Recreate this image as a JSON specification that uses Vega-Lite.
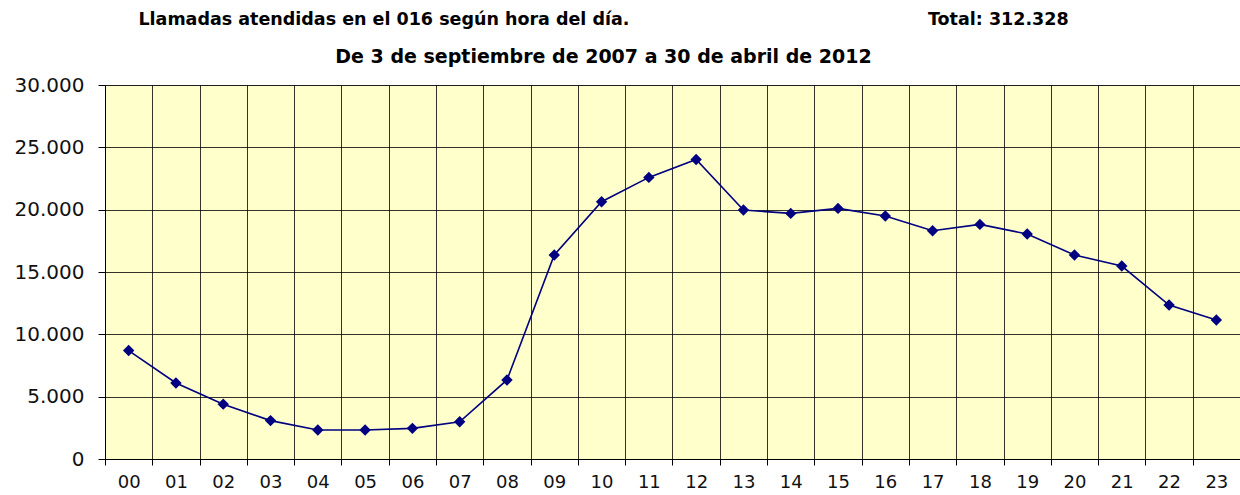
{
  "$schema": "https://vega.github.io/schema/vega-lite/v6.json",
  "width": 1135,
  "height": 374,
  "autosize": {"type": "none"},
  "padding": {"left": 105, "top": 85, "right": 0, "bottom": 36},
  "background": "#ffffff",
  "title": {
    "text": "Llamadas atendidas en el 016 según hora del día.\u00a0\u00a0\u00a0\u00a0\u00a0\u00a0\u00a0\u00a0\u00a0\u00a0\u00a0\u00a0\u00a0\u00a0\u00a0\u00a0\u00a0\u00a0\u00a0\u00a0\u00a0\u00a0\u00a0\u00a0\u00a0\u00a0\u00a0\u00a0\u00a0\u00a0\u00a0\u00a0\u00a0\u00a0\u00a0\u00a0\u00a0\u00a0\u00a0\u00a0\u00a0\u00a0\u00a0\u00a0\u00a0\u00a0\u00a0\u00a0\u00a0Total: 312.328",
    "subtitle": "De 3 de septiembre de 2007 a 30 de abril de 2012",
    "anchor": "middle",
    "frame": "group",
    "dx": -69,
    "offset": 8,
    "subtitlePadding": 20,
    "font": "DejaVu Sans",
    "fontSize": 17.5,
    "fontWeight": "bold",
    "color": "#000000",
    "subtitleFont": "DejaVu Sans",
    "subtitleFontSize": 19,
    "subtitleFontWeight": "bold",
    "subtitleColor": "#000000"
  },
  "data": {
    "values": [
      {"hora": "00", "llamadas": 8700},
      {"hora": "01", "llamadas": 6100},
      {"hora": "02", "llamadas": 4400},
      {"hora": "03", "llamadas": 3080},
      {"hora": "04", "llamadas": 2330},
      {"hora": "05", "llamadas": 2330},
      {"hora": "06", "llamadas": 2460},
      {"hora": "07", "llamadas": 2990},
      {"hora": "08", "llamadas": 6340},
      {"hora": "09", "llamadas": 16360},
      {"hora": "10", "llamadas": 20640},
      {"hora": "11", "llamadas": 22590},
      {"hora": "12", "llamadas": 24030},
      {"hora": "13", "llamadas": 19970},
      {"hora": "14", "llamadas": 19700},
      {"hora": "15", "llamadas": 20100},
      {"hora": "16", "llamadas": 19490},
      {"hora": "17", "llamadas": 18310},
      {"hora": "18", "llamadas": 18820},
      {"hora": "19", "llamadas": 18050},
      {"hora": "20", "llamadas": 16360},
      {"hora": "21", "llamadas": 15480},
      {"hora": "22", "llamadas": 12350},
      {"hora": "23", "llamadas": 11150}
    ]
  },
  "config": {
    "view": {"fill": "#ffffcc", "stroke": "#999999", "strokeWidth": 1},
    "axis": {
      "labelFont": "DejaVu Sans",
      "labelFontSize": 18,
      "labelColor": "#111111",
      "gridColor": "#000000",
      "gridOpacity": 0.8,
      "gridWidth": 1,
      "domainColor": "#000000",
      "tickColor": "#000000",
      "title": null
    }
  },
  "encoding": {
    "x": {
      "field": "hora",
      "type": "ordinal",
      "sort": null,
      "scale": {"type": "band", "paddingInner": 0, "paddingOuter": 0},
      "axis": {
        "labelAngle": 0,
        "tickBand": "extent",
        "tickSize": 6,
        "labelPadding": 8,
        "grid": true,
        "domain": true
      }
    },
    "y": {
      "field": "llamadas",
      "type": "quantitative",
      "scale": {"domain": [0, 30000], "nice": false, "zero": true},
      "axis": {
        "values": [0, 5000, 10000, 15000, 20000, 25000, 30000],
        "format": ",d",
        "labelExpr": "replace(datum.label, ',', '.')",
        "labelFontSize": 20,
        "tickSize": 7,
        "labelPadding": 14,
        "grid": true,
        "domain": true
      }
    }
  },
  "layer": [
    {"mark": {"type": "line", "color": "#000080", "strokeWidth": 1.6}},
    {"mark": {"type": "point", "shape": "diamond", "filled": true, "color": "#000080", "opacity": 1, "size": 130}}
  ]
}
